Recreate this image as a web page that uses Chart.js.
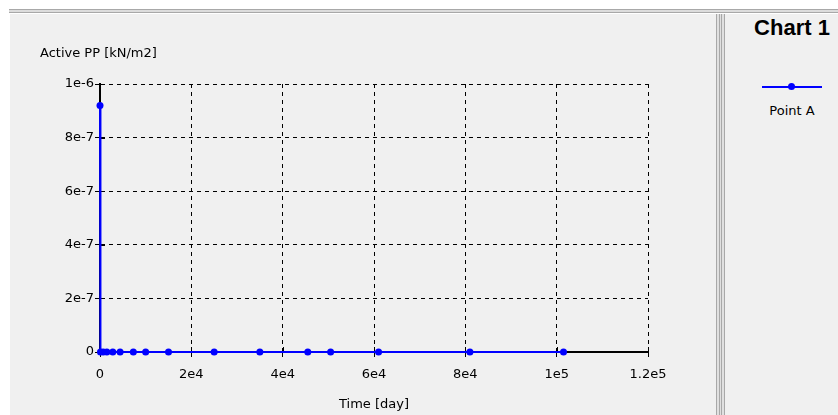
<!DOCTYPE html>
<html>
<head>
<meta charset="utf-8">
<script src="https://cdn.jsdelivr.net/npm/chart.js@4.4.0/dist/chart.umd.min.js"></script>
<style>
  body { margin: 0; background: #fff; font-family: "DejaVu Sans", sans-serif; }
  #wrap { position: relative; width: 838px; height: 415px; overflow: hidden; }
  .topbar { position: absolute; left: 9px; top: 9px; width: 829px; height: 2px; background: #dcdcdc;
            border-top: 1px solid #a8a8a8; border-bottom: 1px solid #a8a8a8; }
  .panel { position: absolute; background: #f0f0f0; }
  .sep { position: absolute; top: 14px; bottom: 0; width: 1px; background: #a8a8a8; }
  #chartBox { position: absolute; left: 0; top: 0; width: 716px; height: 415px; }
  #title { position: absolute; left: 724px; width: 136px; top: 15px; text-align: center;
           font-family: Arial, "Liberation Sans", sans-serif; font-weight: bold; font-size: 22px; color: #000; }
  #legLine { position: absolute; left: 762px; top: 86px; width: 60px; height: 2px; background: #0000ff; }
  #legDot { position: absolute; left: 788px; top: 83px; width: 7px; height: 7px; border-radius: 50%; background: #0000ff; }
  #legText { position: absolute; left: 742px; width: 100px; top: 103px; text-align: center; font-size: 13px; color: #000; }
</style>
</head>
<body>
<div id="wrap">
  <div class="topbar"></div>
  <div class="panel" style="left:10px; top:14px; width:706px; height:401px;"></div>
  <div class="panel" style="left:717px; top:14px; width:7px; height:401px; background:#e0e0e0;"></div>
  <div class="sep" style="left:716px;"></div>
  <div class="sep" style="left:719px;"></div>
  <div class="sep" style="left:721px;"></div>
  <div class="sep" style="left:724px;"></div>
  <div class="panel" style="left:725px; top:14px; width:113px; height:401px;"></div>
  <div id="chartBox"><canvas id="chart"></canvas></div>
  <div id="title">Chart 1</div>
  <div id="legLine"></div>
  <div id="legDot"></div>
  <div id="legText">Point A</div>
</div>
<script>
// Series
const seriesName = 'Point A';
const timeDays = [0, 100, 700, 1500, 2800, 4400, 7300, 10000, 15000, 25000, 35000, 45500, 50500, 61000, 81000, 101500];
const activePP = [9.2e-7, 0, 0, 0, 0, 0, 0, 0, 0, 0, 0, 0, 0, 0, 0, 0];
const xTicks = [0, 2e4, 4e4, 6e4, 8e4, 1e5, 1.2e5];
const yTicks = [0, 2e-7, 4e-7, 6e-7, 8e-7, 1e-6];

function sci(v) {
    if (v === 0) return '0';
    return Number(v.toPrecision(3)).toExponential().replace('+', '');
}

const points = timeDays.map((t, i) => ({ x: t, y: activePP[i] }));
const font = { family: '"DejaVu Sans", sans-serif', size: 13 };

// y axis title sits above the axis, horizontal; plus short solid tick stubs inside the plot
const extrasPlugin = {
    id: 'extras',
    beforeDatasetsDraw(chart) {
        const c = chart.ctx, a = chart.chartArea;
        const xs = chart.scales.x, ys = chart.scales.y;
        c.save();
        c.strokeStyle = '#000';
        c.lineWidth = 1;
        c.beginPath();
        xTicks.forEach(v => {
            const px = Math.round(xs.getPixelForValue(v)) + 0.5;
            c.moveTo(px, a.bottom); c.lineTo(px, a.bottom - 5);
        });
        yTicks.forEach(v => {
            const py = Math.round(ys.getPixelForValue(v)) + 0.5;
            c.moveTo(a.left, py); c.lineTo(a.left + 5, py);
        });
        c.stroke();
        c.restore();
    },
    afterDraw(chart) {
        const c = chart.ctx;
        c.save();
        c.font = '13px "DejaVu Sans", sans-serif';
        c.fillStyle = '#000';
        c.textBaseline = 'middle';
        c.fillText('Active PP [kN/m2]', 40, 54);
        c.restore();
    }
};

new Chart(document.getElementById('chart'), {
    type: 'line',
    data: {
        datasets: [{
            label: seriesName,
            data: points,
            borderColor: '#0000ff',
            backgroundColor: '#0000ff',
            borderWidth: 2,
            pointRadius: 3.5,
            pointHoverRadius: 3.5,
            pointBorderWidth: 0,
            tension: 0,
            clip: false
        }]
    },
    options: {
        responsive: true,
        maintainAspectRatio: false,
        animation: false,
        layout: { padding: { top: 84, right: 68, left: 0, bottom: 0 } },
        plugins: { legend: { display: false }, tooltip: { enabled: false } },
        scales: {
            x: {
                type: 'linear',
                min: 0,
                max: 1.2e5,
                afterBuildTicks(scale) { scale.ticks = xTicks.map(v => ({ value: v })); },
                afterFit(scale) { scale.height = 63; },
                border: { color: '#000', width: 2, dash: [4, 4] },
                grid: { color: '#000', tickColor: '#000', tickBorderDash: [], tickLength: 5, lineWidth: 1 },
                ticks: { color: '#000', font: font, padding: 10, maxRotation: 0, callback: v => sci(v) },
                title: { display: true, text: 'Time [day]', color: '#000', font: font, padding: { top: 2, bottom: 3 } }
            },
            y: {
                type: 'linear',
                min: 0,
                max: 1e-6,
                afterBuildTicks(scale) { scale.ticks = yTicks.map(v => ({ value: v })); },
                afterFit(scale) { scale.width = 100; },
                border: { color: '#000', width: 2, dash: [4, 4] },
                grid: { color: '#000', tickColor: '#000', tickBorderDash: [], tickLength: 5, lineWidth: 1 },
                ticks: { color: '#000', font: font, padding: 1, callback: v => sci(v) }
            }
        }
    },
    plugins: [extrasPlugin]
});
</script>
</body>
</html>
